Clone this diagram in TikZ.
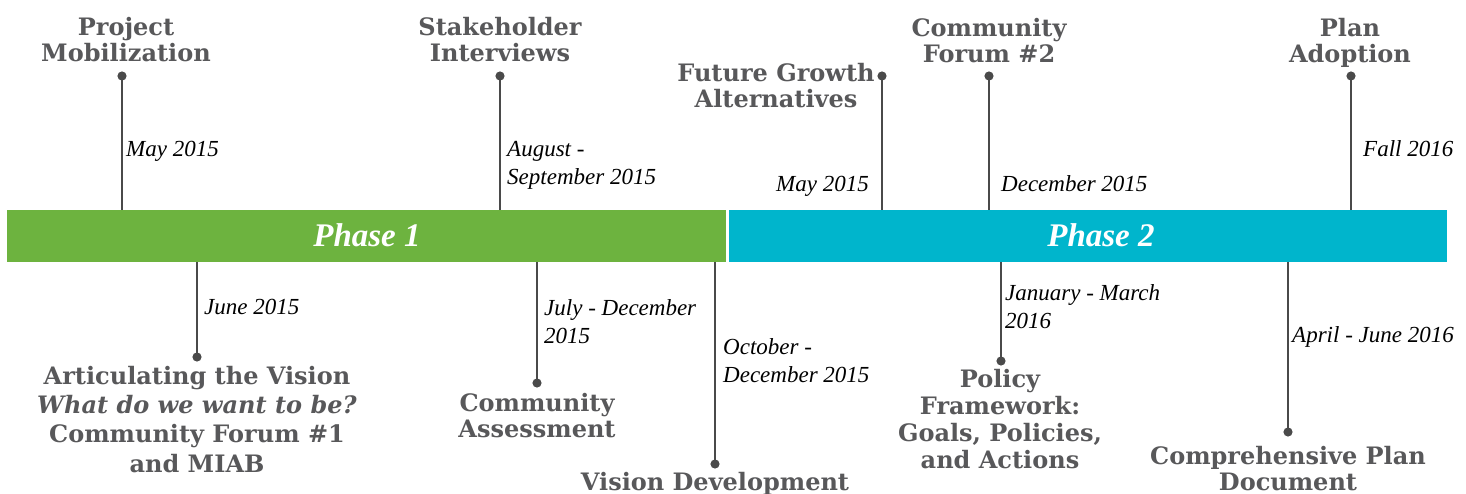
\documentclass[tikz,border=0pt]{standalone}
\usepackage{fontspec}
\setmainfont{DejaVu Serif}
\newfontfamily\datefont{Liberation Serif}
\newfontfamily\phasefont{Liberation Serif}
\usetikzlibrary{arrows.meta}
\definecolor{pgreen}{HTML}{6DB33F}
\definecolor{pcyan}{HTML}{00B5CC}
\definecolor{headgray}{HTML}{58585A}
\definecolor{stemgray}{HTML}{4A4A4A}
\begin{document}
\begin{tikzpicture}[x=1pt,y=-1pt,
  head/.style={font=\fontsize{24}{26}\selectfont\bfseries, text=headgray, align=center, inner sep=0, anchor=base},
  datelbl/.style={font=\datefont\fontsize{23}{28}\selectfont\itshape, align=left, inner sep=0},
  stem/.style={draw=stemgray, line width=2pt, {Circle[length=9pt,width=9pt]}-},
  barbox/.style={inner sep=0, minimum height=52pt, anchor=north west},
  phase/.style={font=\phasefont\fontsize{33}{36}\selectfont\bfseries\itshape, text=white, anchor=base}]
\useasboundingbox (0,0) rectangle (1466,494);
\node[barbox, fill=pgreen, minimum width=719pt] (bar1) at (7,210) {};
\node[barbox, fill=pcyan, minimum width=718pt] (bar2) at (729,210) {};
\node[phase] (ph1) at (367,247) {Phase 1};
\node[phase] (ph2) at (1101,247) {Phase 2};
% top milestones (dot tip ends 4.5 beyond its centre)
\coordinate (t1) at (122,71.5);
\coordinate (t2) at (500,71.5);
\coordinate (t3) at (882,71.5);
\coordinate (t4) at (989,71.5);
\coordinate (t5) at (1351,71.5);
\draw[stem] (t1) -- (t1 |- bar1.north);
\draw[stem] (t2) -- (t2 |- bar1.north);
\draw[stem] (t3) -- (t3 |- bar2.north);
\draw[stem] (t4) -- (t4 |- bar2.north);
\draw[stem] (t5) -- (t5 |- bar2.north);
\node[head] (h1) at (126,62) {Project\\Mobilization};
\node[head] (h2) at (500,62) {Stakeholder\\Interviews};
\node[head] (h3) at (776,108) {Future Growth\\Alternatives};
\node[head] (h4) at (989,63) {Community\\Forum \#2};
\node[head] (h5) at (1350,63) {Plan\\Adoption};
\node[datelbl, anchor=base west] (d1) at (126,157) {May 2015};
\node[datelbl, anchor=base west] (d2) at (507,185) {August -\\September 2015};
\node[datelbl, anchor=base east] (d3) at (869,192) {May 2015};
\node[datelbl, anchor=base west] (d4) at (1001,192) {December 2015};
\node[datelbl, anchor=base west] (d5) at (1363,157) {Fall 2016};
% bottom milestones
\coordinate (b1) at (197,361.5);
\coordinate (b2) at (537,387.5);
\coordinate (b3) at (715,468.5);
\coordinate (b4) at (1001,365.5);
\coordinate (b5) at (1288,436.5);
\draw[stem] (b1) -- (b1 |- bar1.south);
\draw[stem] (b2) -- (b2 |- bar1.south);
\draw[stem] (b3) -- (b3 |- bar1.south);
\draw[stem] (b4) -- (b4 |- bar2.south);
\draw[stem] (b5) -- (b5 |- bar2.south);
\node[head, font=\fontsize{24}{29.3}\selectfont\bfseries] (h6) at (197,472) {Articulating the Vision\\\textit{What do we want to be?}\\Community Forum \#1\\and MIAB};
\node[head] (h7) at (537,437) {Community\\Assessment};
\node[head] (h8) at (715,490) {Vision Development};
\node[head, font=\fontsize{24}{26.7}\selectfont\bfseries] (h9) at (1000,468) {Policy\\Framework:\\Goals, Policies,\\and Actions};
\node[head] (h10) at (1288,490) {Comprehensive Plan\\Document};
\node[datelbl, anchor=base west] (d6) at (204,314) {June 2015};
\node[datelbl, anchor=base west] (d7) at (544,343) {July - December\\2015};
\node[datelbl, anchor=base west] (d8) at (723,382) {October -\\December 2015};
\node[datelbl, anchor=base west] (d9) at (1005,328) {January - March\\2016};
\node[datelbl, anchor=base west] (d10) at (1292,342) {April - June 2016};
\end{tikzpicture}
\end{document}
